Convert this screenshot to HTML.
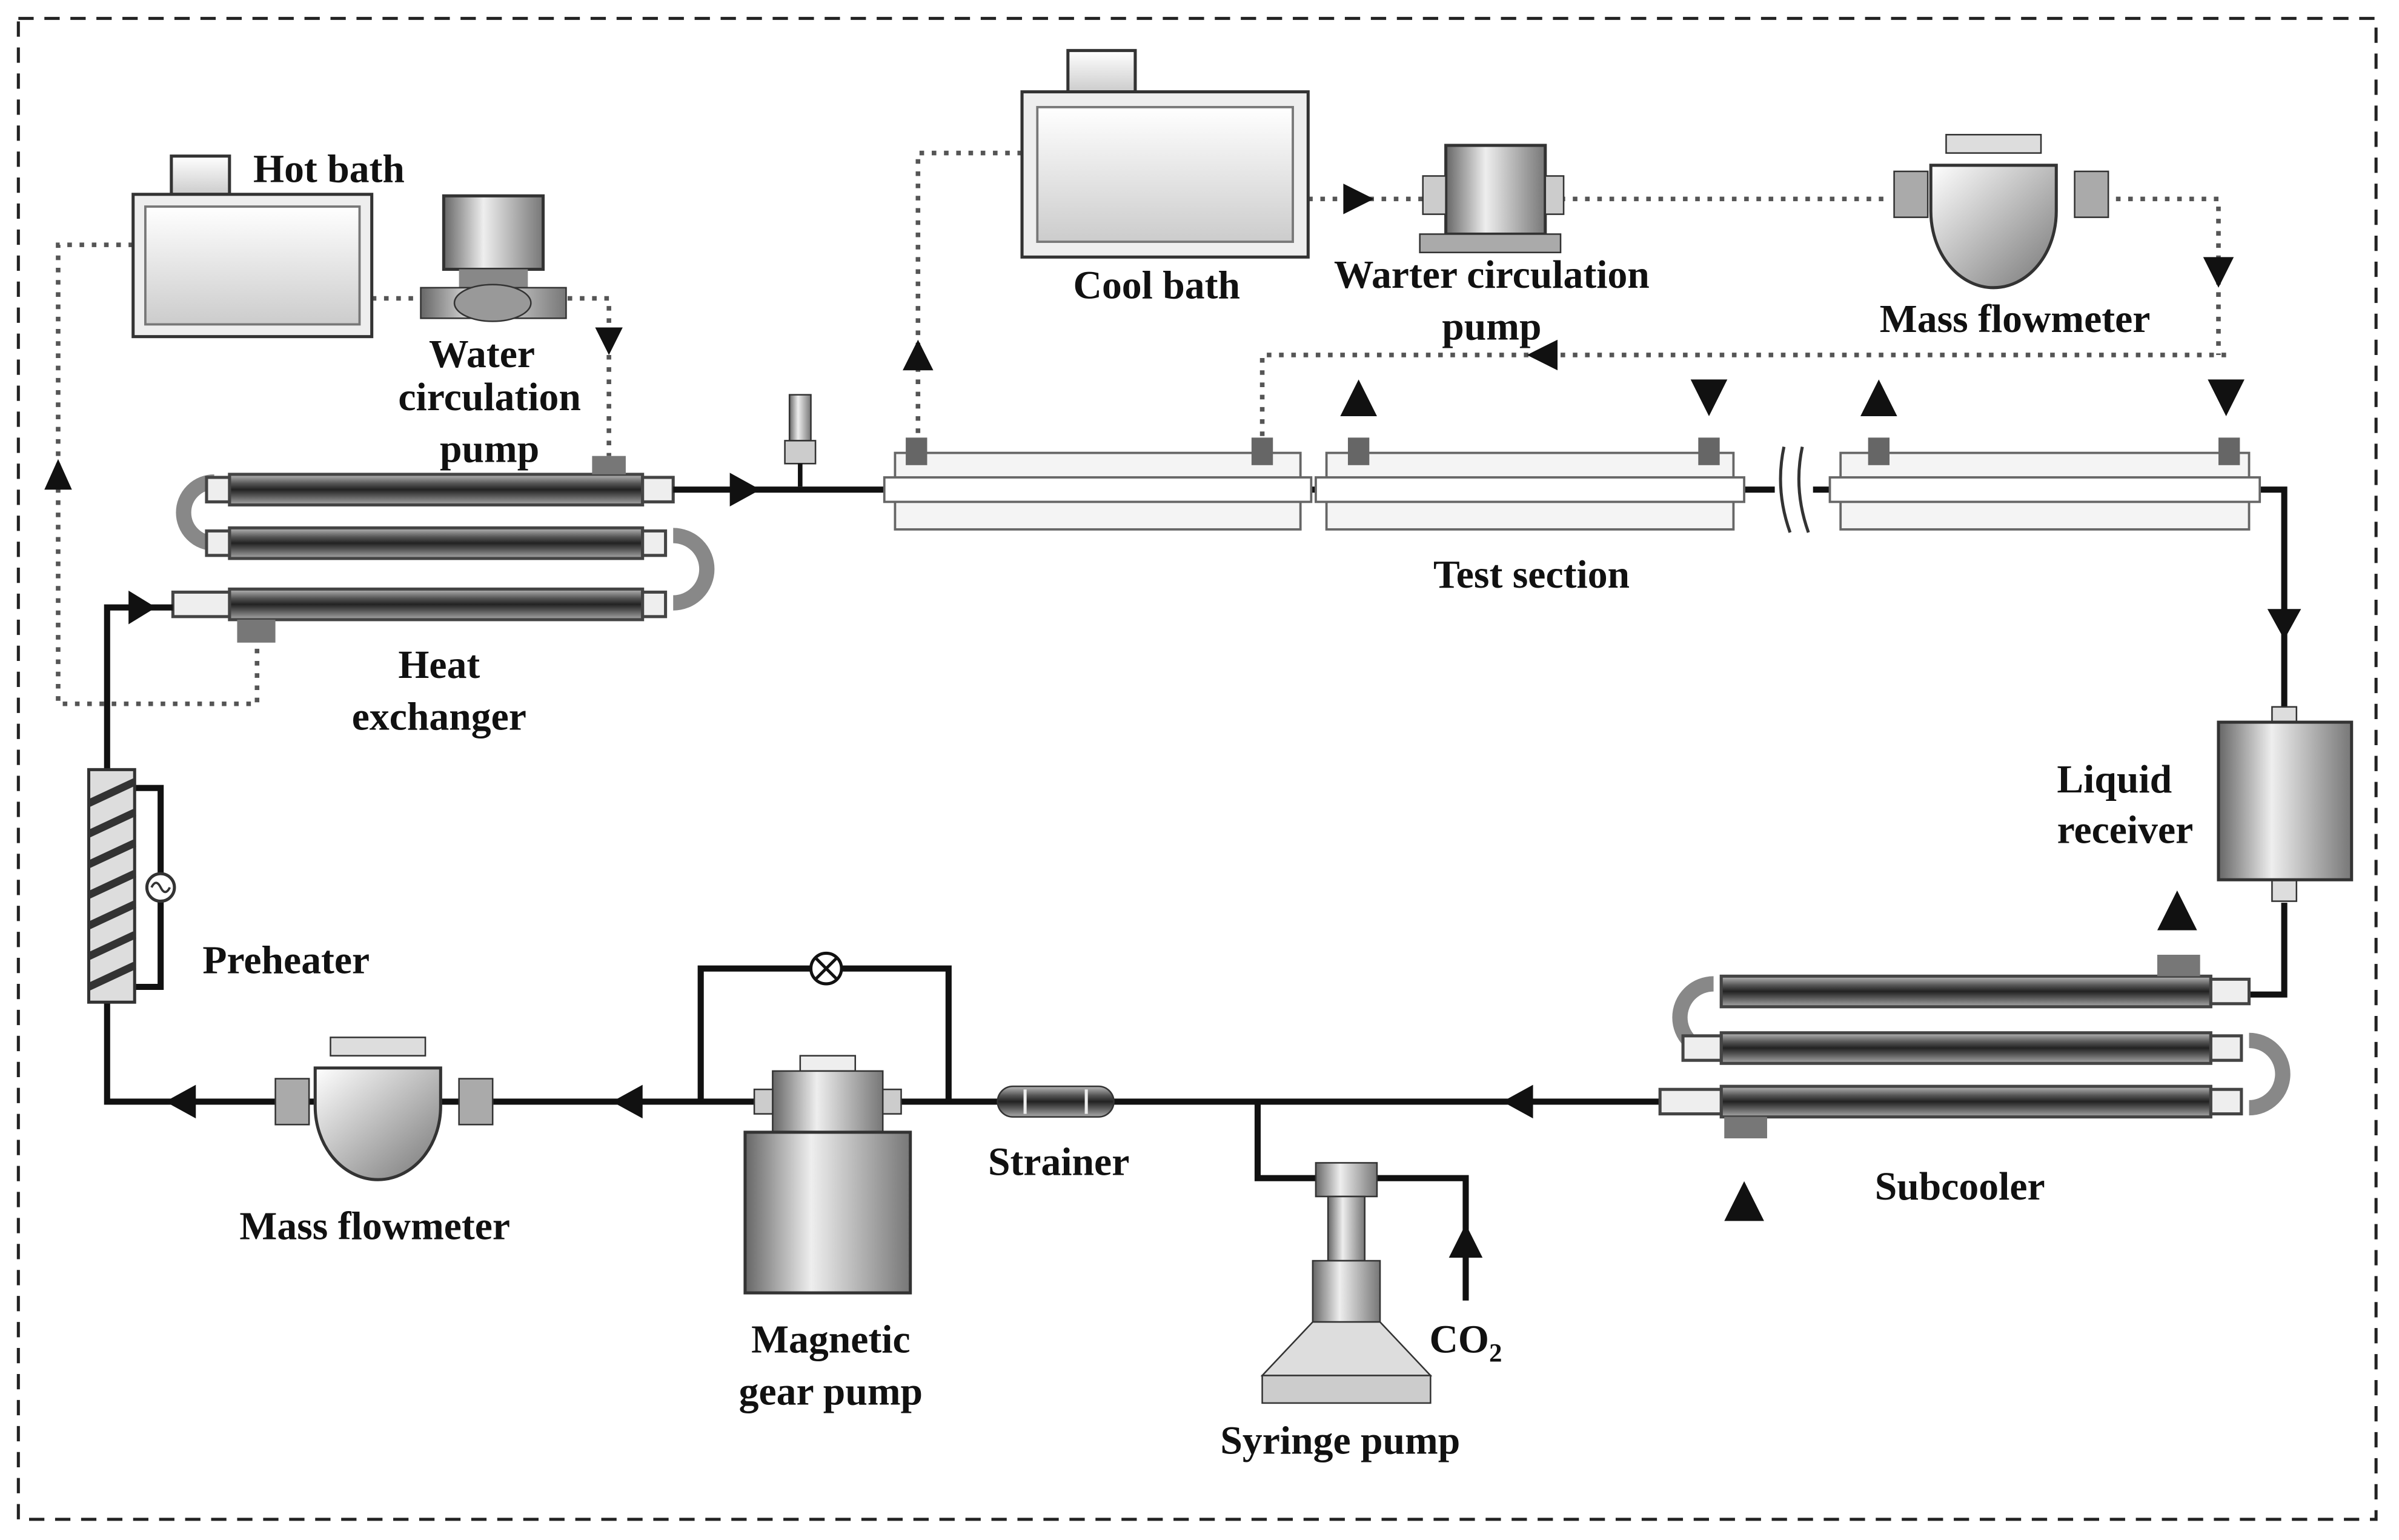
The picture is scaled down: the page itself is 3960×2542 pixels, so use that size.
<!DOCTYPE html>
<html><head><meta charset="utf-8"><style>
html,body{margin:0;padding:0;background:#fff;}
svg{display:block;}
text{font-family:"Liberation Serif",serif;font-weight:bold;font-size:26px;fill:#111;text-anchor:middle;}
</style></head><body>
<svg width="3960" height="2542" viewBox="0 0 1568 1006.5" xmlns="http://www.w3.org/2000/svg">
<defs>
<linearGradient id="tube" x1="0" y1="0" x2="0" y2="1">
<stop offset="0" stop-color="#bbb"/><stop offset="0.3" stop-color="#555"/><stop offset="0.5" stop-color="#222"/><stop offset="0.7" stop-color="#555"/><stop offset="1" stop-color="#aaa"/></linearGradient>
<linearGradient id="cyl" x1="0" y1="0" x2="1" y2="0">
<stop offset="0" stop-color="#666"/><stop offset="0.4" stop-color="#eee"/><stop offset="1" stop-color="#777"/></linearGradient>
<linearGradient id="box" x1="0" y1="0" x2="0" y2="1">
<stop offset="0" stop-color="#fff"/><stop offset="1" stop-color="#ccc"/></linearGradient>
<linearGradient id="bowl" x1="0" y1="0" x2="1" y2="1">
<stop offset="0" stop-color="#fff"/><stop offset="1" stop-color="#777"/></linearGradient>
</defs>
<rect x="12" y="12" width="1541" height="981" fill="none" stroke="#222" stroke-width="2" stroke-dasharray="10,7"/>

<g fill="none" stroke="#555" stroke-width="3" stroke-dasharray="3,5">
<path d="M87,160H38V460H168V420"/>
<path d="M243,195H398V298"/>
<path d="M668,100H600V288"/>
<path d="M855,130H930"/>
<path d="M1020,130H1235"/>
<path d="M1375,130H1450V232"/>
<path d="M1455,232H825V288"/>
</g>
<g fill="#111">
<path d="M38,300l-9,20h18z"/>
<path d="M398,232l-9,-18h18z"/>
<path d="M600,222l-10,20h20z"/>
<path d="M898,130l-20,-10v20z"/>
<path d="M1450,188l-10,-20h20z"/>
<path d="M998,232l20,-10v20z"/>
<path d="M888,248l-12,24h24z"/>
<path d="M1117,272l-12,-24h24z"/>
<path d="M1228,248l-12,24h24z"/>
<path d="M1455,272l-12,-24h24z"/>
<path d="M1423,582l-13,26h26z"/>
<path d="M1140,772l-13,26h26z"/>
</g>

<rect x="112" y="102" width="38" height="25" fill="url(#box)" stroke="#333" stroke-width="2"/>
<rect x="87" y="127" width="156" height="93" fill="#eee" stroke="#333" stroke-width="2"/>
<rect x="95" y="135" width="140" height="77" fill="url(#box)" stroke="#777" stroke-width="1.5"/>
<text x="215" y="119">Hot bath</text>
<rect x="290" y="128" width="65" height="48" fill="url(#cyl)" stroke="#333" stroke-width="2"/>
<rect x="300" y="176" width="45" height="12" fill="#888"/>
<path d="M275,188h95v20h-95z" fill="url(#cyl)" stroke="#333"/>
<ellipse cx="322" cy="198" rx="25" ry="12" fill="#999" stroke="#333"/>
<text x="315" y="240">Water</text><text x="320" y="268">circulation</text><text x="320" y="302">pump</text>

<g stroke="#444" stroke-width="2">
<path d="M140,315a20,20 0 0 0 0,40" fill="none" stroke="#888" stroke-width="10"/>
<path d="M440,350a22,22 0 0 1 0,44" fill="none" stroke="#888" stroke-width="10"/>
<rect x="150" y="310" width="270" height="20" fill="url(#tube)"/>
<rect x="150" y="345" width="270" height="20" fill="url(#tube)"/>
<rect x="150" y="385" width="270" height="20" fill="url(#tube)"/>
<rect x="135" y="312" width="15" height="16" fill="#eee"/><rect x="135" y="347" width="15" height="16" fill="#eee"/><rect x="113" y="387" width="37" height="16" fill="#eee"/>
<rect x="420" y="312" width="20" height="16" fill="#eee"/><rect x="420" y="347" width="15" height="16" fill="#eee"/><rect x="420" y="387" width="15" height="16" fill="#eee"/>
</g>
<rect x="387" y="298" width="22" height="12" fill="#777"/>
<rect x="155" y="405" width="25" height="15" fill="#777"/>
<text x="287" y="443">Heat</text><text x="287" y="477">exchanger</text>

<g fill="none" stroke="#111" stroke-width="4">
<path d="M440,320H585"/>
<path d="M1470,320H1493V462"/>
<path d="M1493,590V650H1470"/>
<path d="M1120,720H70V397H113"/>
<path d="M458,720V633H620V720"/>
<path d="M822,720V770H900"/>
<path d="M900,770H958V850"/>
<path d="M850,320H867M1133,320H1160M1185,320H1203"/>
<path d="M88,515H105V645H88"/>
</g>
<g fill="#111">
<path d="M497,320l-20,-11v22z"/>
<path d="M1493,418l-11,-20h22z"/>
<path d="M982,720l20,-11v22z"/>
<path d="M400,720l20,-11v22z"/>
<path d="M108,720l20,-11v22z"/>
<path d="M102,397l-18,-11v22z"/>
<path d="M958,800l-11,22h22z"/>
</g>
<path d="M1166,292q-6,28 4,56M1178,292q-6,28 4,56" fill="none" stroke="#333" stroke-width="2"/>
<rect x="516" y="258" width="14" height="30" fill="url(#cyl)" stroke="#333"/><rect x="513" y="288" width="20" height="15" fill="#ccc" stroke="#333"/>
<path d="M523,303V318" stroke="#111" stroke-width="3"/>

<g stroke="#666" stroke-width="1.5">
<rect x="585" y="296" width="265" height="50" fill="#f4f4f4"/>
<rect x="867" y="296" width="266" height="50" fill="#f4f4f4"/>
<rect x="1203" y="296" width="267" height="50" fill="#f4f4f4"/>
<rect x="578" y="312" width="279" height="16" fill="#fff"/>
<rect x="860" y="312" width="280" height="16" fill="#fff"/>
<rect x="1196" y="312" width="281" height="16" fill="#fff"/>
</g>
<g fill="#666"><rect x="592" y="286" width="14" height="18"/><rect x="818" y="286" width="14" height="18"/><rect x="881" y="286" width="14" height="18"/><rect x="1110" y="286" width="14" height="18"/><rect x="1221" y="286" width="14" height="18"/><rect x="1450" y="286" width="14" height="18"/></g>
<text x="1001" y="384">Test section</text>

<rect x="698" y="33" width="44" height="27" fill="url(#box)" stroke="#333" stroke-width="2"/>
<rect x="668" y="60" width="187" height="108" fill="#eee" stroke="#333" stroke-width="2"/>
<rect x="678" y="70" width="167" height="88" fill="url(#box)" stroke="#777" stroke-width="1.5"/>
<text x="756" y="195">Cool bath</text>
<rect x="945" y="95" width="65" height="58" fill="url(#cyl)" stroke="#333" stroke-width="2"/>
<rect x="930" y="115" width="15" height="25" fill="#ccc" stroke="#333"/><rect x="1010" y="115" width="12" height="25" fill="#ccc" stroke="#333"/>
<rect x="928" y="153" width="92" height="12" fill="#aaa" stroke="#333"/>
<text x="975" y="188">Warter circulation</text><text x="975" y="222">pump</text>
<rect x="1272" y="88" width="62" height="12" fill="#ddd" stroke="#333"/>
<path d="M1262,108h82v30a41,50 0 0 1 -82,0z" fill="url(#bowl)" stroke="#333" stroke-width="2"/>
<rect x="1238" y="112" width="22" height="30" fill="#aaa" stroke="#333"/><rect x="1356" y="112" width="22" height="30" fill="#aaa" stroke="#333"/>
<text x="1317" y="217">Mass flowmeter</text>

<rect x="1485" y="462" width="16" height="12" fill="#ddd" stroke="#333"/>
<rect x="1485" y="575" width="16" height="14" fill="#ddd" stroke="#333"/>
<rect x="1450" y="472" width="87" height="103" fill="url(#cyl)" stroke="#333" stroke-width="2"/>
<text x="1382" y="518">Liquid</text><text x="1389" y="551">receiver</text>

<g stroke="#444" stroke-width="2">
<path d="M1120,643a22,22 0 0 0 0,44" fill="none" stroke="#888" stroke-width="10"/>
<path d="M1470,680a22,22 0 0 1 0,44" fill="none" stroke="#888" stroke-width="10"/>
<rect x="1125" y="638" width="320" height="20" fill="url(#tube)"/>
<rect x="1125" y="675" width="320" height="20" fill="url(#tube)"/>
<rect x="1125" y="710" width="320" height="20" fill="url(#tube)"/>
<rect x="1445" y="640" width="25" height="16" fill="#eee"/><rect x="1445" y="677" width="20" height="16" fill="#eee"/><rect x="1445" y="712" width="20" height="16" fill="#eee"/>
<rect x="1100" y="677" width="25" height="16" fill="#eee"/><rect x="1085" y="712" width="40" height="16" fill="#eee"/>
</g>
<rect x="1410" y="624" width="28" height="14" fill="#777"/><rect x="1127" y="730" width="28" height="14" fill="#777"/>
<text x="1281" y="784">Subcooler</text>

<rect x="860" y="760" width="40" height="22" fill="url(#cyl)" stroke="#333"/>
<rect x="868" y="782" width="24" height="42" fill="url(#cyl)" stroke="#333"/>
<rect x="858" y="824" width="44" height="40" fill="url(#cyl)" stroke="#333"/>
<path d="M858,864h44l33,35h-110z" fill="#ddd" stroke="#333"/>
<rect x="825" y="899" width="110" height="18" fill="#ccc" stroke="#333"/>
<text x="958" y="884">CO<tspan font-size="17" dy="6">2</tspan></text>
<text x="876" y="950">Syringe pump</text>

<rect x="652" y="710" width="76" height="20" rx="10" fill="url(#tube)" stroke="#333"/>
<path d="M670,712v16M710,712v16" stroke="#eee" stroke-width="2"/>
<text x="692" y="768">Strainer</text>

<circle cx="540" cy="633" r="10" fill="#fff" stroke="#111" stroke-width="2"/>
<path d="M533,626l14,14M547,626l-14,14" stroke="#111" stroke-width="2"/>
<rect x="523" y="690" width="36" height="10" fill="#eee" stroke="#333"/>
<rect x="505" y="700" width="72" height="40" fill="url(#cyl)" stroke="#333"/>
<rect x="493" y="712" width="12" height="16" fill="#ccc" stroke="#333"/><rect x="577" y="712" width="12" height="16" fill="#ccc" stroke="#333"/>
<rect x="487" y="740" width="108" height="105" fill="url(#cyl)" stroke="#333" stroke-width="2"/>
<text x="543" y="884">Magnetic</text><text x="543" y="918">gear pump</text>

<rect x="216" y="678" width="62" height="12" fill="#ddd" stroke="#333"/>
<path d="M206,698h82v25a41,48 0 0 1 -82,0z" fill="url(#bowl)" stroke="#333" stroke-width="2"/>
<rect x="180" y="705" width="22" height="30" fill="#aaa" stroke="#333"/><rect x="300" y="705" width="22" height="30" fill="#aaa" stroke="#333"/>
<text x="245" y="810">Mass flowmeter</text>

<rect x="58" y="503" width="30" height="152" fill="#ddd" stroke="#333" stroke-width="2"/>
<g stroke="#333" stroke-width="5">
<path d="M58,525l30,-14M58,545l30,-14M58,565l30,-14M58,585l30,-14M58,605l30,-14M58,625l30,-14M58,645l30,-14"/>
</g>
<circle cx="105" cy="580" r="9" fill="#fff" stroke="#333" stroke-width="2"/>
<path d="M99,580q3,-6 6,0t6,0" fill="none" stroke="#333" stroke-width="1.5"/>
<text x="187" y="636">Preheater</text>
</svg>
</body></html>
